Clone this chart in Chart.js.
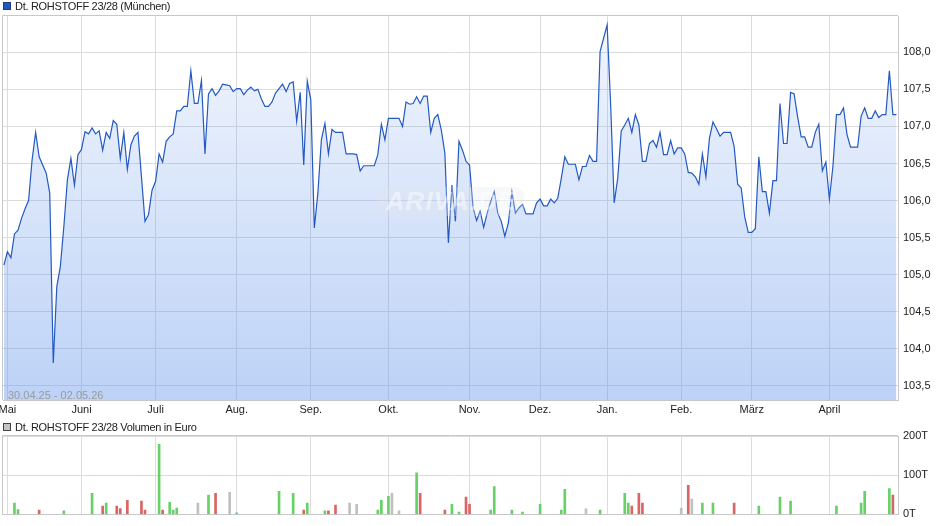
<!DOCTYPE html>
<html><head><meta charset="utf-8">
<script src="https://cdn.jsdelivr.net/npm/chart.js@4.4.1/dist/chart.umd.min.js"></script>
<style>
html,body{margin:0;padding:0;background:#fff;width:940px;height:526px;overflow:hidden;font-family:"Liberation Sans",Arial,sans-serif}
canvas{position:absolute;left:0}
#c1{top:0}
#c2{top:420px}
.leg{position:absolute;left:3px;font-size:11px;color:#222;letter-spacing:-0.3px;line-height:13px;white-space:nowrap;z-index:3}
.leg i{display:inline-block;box-sizing:border-box;width:8px;height:8px;margin-right:4px;vertical-align:0px}
#range{position:absolute;left:8px;top:389px;font-size:11px;color:#9a9a9a;line-height:13px;z-index:3}
#wm{position:absolute;left:378px;top:187px;width:146px;height:29px;border-radius:9px;background:rgba(228,231,238,0.28);color:rgba(255,255,255,0.45);font:italic bold 26px "Liberation Sans",Arial,sans-serif;line-height:29px;text-align:center;letter-spacing:1px;z-index:2}
</style></head>
<body>
<canvas id="c1" width="940" height="420"></canvas>
<canvas id="c2" width="940" height="106"></canvas>
<div class="leg" style="top:0px"><i style="background:#1f57c3;border:1px solid #243b6e"></i>Dt. ROHSTOFF 23/28 (München)</div>
<div class="leg" style="top:421px"><i style="background:#c4c4c4;border:1px solid #444"></i>Dt. ROHSTOFF 23/28 Volumen in Euro</div>
<div id="range">30.04.25 - 02.05.26</div>
<div id="wm">ARIVA.DE</div>
<script>
const monthLabels = ['Mai','Juni','Juli','Aug.','Sep.','Okt.','Nov.','Dez.','Jan.','Feb.','März','April'];
const monthStartIdx = [1,22,43,66,87,109,132,152,171,192,212,234];

const closeValues = [
105.13,105.31,105.23,105.55,105.60,105.76,105.89,106.00,106.55,106.92,
106.59,106.48,106.37,106.10,103.81,104.84,105.11,105.65,106.28,106.57,
106.21,106.62,106.69,106.93,106.90,106.98,106.90,106.94,106.68,106.92,
106.84,107.08,107.03,106.57,106.92,106.42,106.75,106.87,106.92,106.32,
105.72,105.81,106.14,106.26,106.63,106.52,106.80,106.86,106.90,107.21,
107.21,107.27,107.27,107.75,107.31,107.31,107.62,106.63,107.44,107.51,
107.42,107.48,107.57,107.56,107.55,107.47,107.51,107.51,107.43,107.49,
107.53,107.48,107.50,107.37,107.27,107.27,107.33,107.45,107.51,107.57,
107.47,107.58,107.60,107.07,107.46,106.48,107.61,107.36,105.63,106.10,
106.82,107.04,106.63,106.96,106.92,106.92,106.92,106.63,106.63,106.63,
106.62,106.40,106.47,106.47,106.47,106.47,106.62,107.03,106.82,107.11,
107.11,107.11,107.11,107.00,107.33,107.30,107.31,107.40,107.31,107.41,
107.41,106.92,107.11,107.16,106.95,106.64,105.43,106.21,105.72,106.80,
106.68,106.53,106.48,105.90,105.73,105.86,105.64,105.83,105.99,106.12,
105.83,105.72,105.52,105.70,106.12,105.83,105.90,105.95,105.82,105.82,
105.82,105.97,106.02,105.93,105.93,106.02,105.97,106.03,106.30,106.59,
106.49,106.49,106.49,106.28,106.46,106.46,106.61,106.53,106.53,108.01,
108.19,108.37,107.29,105.97,106.30,106.94,107.02,107.11,106.92,107.16,
107.02,106.53,106.53,106.77,106.81,106.72,106.92,106.62,106.62,106.81,
106.63,106.71,106.71,106.63,106.38,106.37,106.32,106.22,106.63,106.32,
106.84,107.06,106.97,106.87,106.92,106.92,106.92,106.73,106.22,106.17,
105.78,105.57,105.57,105.62,106.59,106.12,106.12,105.83,106.27,106.27,
107.31,106.77,106.77,107.46,107.44,107.13,106.86,106.86,106.72,106.72,
106.92,107.03,106.40,106.52,106.02,106.46,107.16,107.16,107.25,106.89,
106.72,106.72,106.72,107.14,107.25,107.11,107.11,107.21,107.12,107.16,
107.16,107.75,107.16,107.16
];

const volIdx = [3,4,10,17,25,28,29,32,33,35,39,40,44,45,47,48,49,55,58,60,64,66,78,82,85,86,91,92,94,98,100,106,107,109,110,112,117,118,125,127,129,131,132,138,139,144,147,152,158,159,165,169,176,177,178,180,181,192,194,195,198,201,207,214,220,223,236,243,244,251,252];
const volK = [29,12,11,9,54,21,29,21,15,36,34,11,179,11,31,11,16,29,49,54,56,4,59,54,11,29,9,9,24,29,26,11,36,46,54,9,106,54,11,26,6,44,26,11,71,11,6,26,11,64,14,11,54,29,21,54,29,16,74,39,29,29,29,21,44,34,21,29,59,66,49];
const volDir = ['u','u','d','u','u','d','u','d','d','d','d','d','u','d','u','u','u','n','u','d','n','u','u','u','d','u','u','d','d','n','n','u','u','u','n','n','u','d','d','u','u','d','d','u','u','u','u','u','u','u','n','u','u','u','d','d','d','n','d','n','u','u','d','u','u','u','u','u','u','u','d'];
const volTickValues = [0,100,200];

const dirColor = {u:'#66d166', d:'#db6464', n:'#c0c0c0'};
const FONT = {family:'"Liberation Sans", Arial, sans-serif', size:11};
const GRID = '#dcdcdc';
const BORDER = '#c8c8c8';

const frame = {
  id:'frame',
  beforeDatasetsDraw(chart){
    const a = chart.chartArea, c = chart.ctx;
    c.save(); c.strokeStyle = BORDER; c.lineWidth = 1;
    c.beginPath();
    c.moveTo(Math.floor(a.left)-0.5, Math.ceil(a.bottom));
    c.lineTo(Math.floor(a.left)-0.5, Math.floor(a.top)-0.5);
    c.lineTo(Math.ceil(a.right), Math.floor(a.top)-0.5);
    c.stroke(); c.restore();
  }
};

function monthTicks(scale){ scale.ticks = monthStartIdx.map(v => ({value:v})); }
function noPad(scale){ scale.paddingLeft = 0; scale.paddingRight = 0; }

new Chart(document.getElementById('c1'), {
  type:'line',
  data:{ datasets:[{
    data: closeValues.map((v,i)=>({x:i,y:v})),
    borderColor:'#2559c2', borderWidth:1.2, pointRadius:0, tension:0,
    fill:'start',
    backgroundColor(ctx){
      const a = ctx.chart.chartArea;
      if(!a) return 'rgba(100,150,235,0.2)';
      const g = ctx.chart.ctx.createLinearGradient(0,a.top,0,a.bottom);
      g.addColorStop(0,'rgba(100,150,235,0.08)');
      g.addColorStop(1,'rgba(100,150,235,0.43)');
      return g;
    }
  }]},
  options:{
    responsive:false, animation:false, events:[],
    layout:{padding:{left:3,top:16,right:0,bottom:0}},
    plugins:{legend:{display:false}, tooltip:{enabled:false}},
    scales:{
      x:{type:'linear', min:-0.25, max:253.45,
        afterBuildTicks: monthTicks,
        afterFit(s){ s.height = 20; noPad(s); },
        grid:{color:GRID, drawTicks:false}, border:{color:BORDER},
        ticks:{autoSkip:false, maxRotation:0, padding:3, color:'#222', font:FONT,
          callback:(v,i)=>monthLabels[i]}
      },
      y:{type:'linear', position:'right', min:103.31, max:108.49,
        afterFit(s){ s.width = 42; },
        grid:{color:GRID, drawTicks:false}, border:{color:BORDER},
        ticks:{stepSize:0.5, includeBounds:false, padding:5, color:'#222', font:FONT,
          callback:v=>v.toFixed(1).replace('.',',')}
      }
    }
  },
  plugins:[frame]
});

new Chart(document.getElementById('c2'), {
  type:'bar',
  data:{ datasets:[{
    data: volIdx.map((ix,k)=>({x:ix,y:volK[k]})),
    backgroundColor: volDir.map(d=>dirColor[d]),
    barThickness:2, borderWidth:0
  }]},
  options:{
    responsive:false, animation:false, events:[],
    layout:{padding:{left:3,top:16,right:0,bottom:9.5}},
    plugins:{legend:{display:false}, tooltip:{enabled:false}},
    scales:{
      x:{type:'linear', min:-0.25, max:253.45, offset:false,
        afterBuildTicks: monthTicks,
        afterFit(s){ s.height = 0; noPad(s); },
        grid:{color:GRID, drawTicks:false, offset:false}, border:{color:BORDER},
        ticks:{display:false}
      },
      y:{type:'linear', position:'right', min:0, max:200,
        afterBuildTicks(s){ s.ticks = volTickValues.map(v=>({value:v})); },
        afterFit(s){ s.width = 42; },
        grid:{color:GRID, drawTicks:false}, border:{color:BORDER},
        ticks:{padding:5, color:'#222', font:FONT, callback:v=>v+'T'}
      }
    }
  },
  plugins:[frame]
});
</script>
</body></html>
